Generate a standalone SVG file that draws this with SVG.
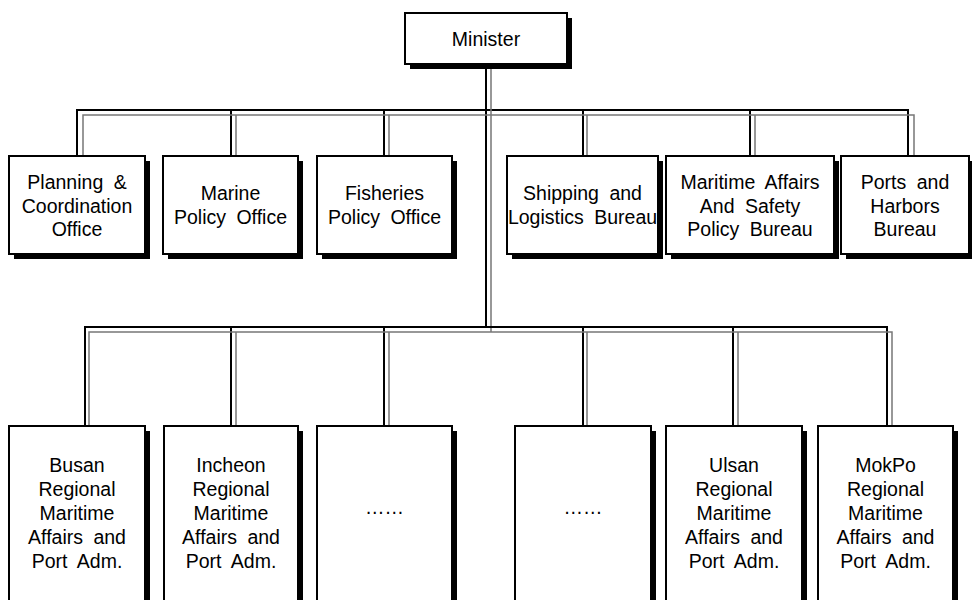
<svg xmlns="http://www.w3.org/2000/svg" width="972" height="600" viewBox="0 0 972 600">
<style>
.sh{fill:#000}
.bx{fill:#fff;stroke:#000;stroke-width:2}
.t{font-family:"Liberation Sans",Arial,sans-serif;font-size:19.5px;fill:#000;text-anchor:middle;word-spacing:5px}
.k{fill:none;stroke:#000;stroke-width:2}
.g{fill:none;stroke:#777;stroke-width:1.5}
</style>
<rect width="972" height="600" fill="#fff"/>
<g id="connectors">
<path class="k" d="M486 64V327M77 156V110H908V156M231 110V156M384 110V156M583 110V156M750 110V156"/>
<path class="g" d="M491 64V332M83 156V115H914V156M236 115V156M389 115V156M587 115V156M755 115V156"/>
<path class="k" d="M85 426V327H887V426M231 327V426M384 327V426M583 327V426M733 327V426"/>
<path class="g" d="M89 426V332H892V426M236 332V426M389 332V426M587 332V426M738 332V426"/>
</g>
<g id="minister">
<rect class="sh" x="410" y="18" width="162" height="51"/>
<rect class="bx" x="405" y="13" width="162" height="51"/>
<text class="t" x="486" y="46">Minister</text>
</g>
<g id="planning">
<rect class="sh" x="14" y="161" width="136" height="98"/>
<rect class="bx" x="9" y="156" width="136" height="98"/>
<text class="t" x="77" y="189">Planning &amp;</text>
<text class="t" x="77" y="212.5">Coordination</text>
<text class="t" x="77" y="236">Office</text>
</g>
<g id="marine">
<rect class="sh" x="168" y="161" width="135" height="98"/>
<rect class="bx" x="163" y="156" width="135" height="98"/>
<text class="t" x="230.5" y="200">Marine</text>
<text class="t" x="230.5" y="224">Policy Office</text>
</g>
<g id="fisheries">
<rect class="sh" x="322" y="161" width="135" height="98"/>
<rect class="bx" x="317" y="156" width="135" height="98"/>
<text class="t" x="384.5" y="200">Fisheries</text>
<text class="t" x="384.5" y="224">Policy Office</text>
</g>
<g id="shipping">
<rect class="sh" x="512" y="161" width="151" height="98"/>
<rect class="bx" x="507" y="156" width="151" height="98"/>
<text class="t" x="582.5" y="200">Shipping and</text>
<text class="t" x="582.5" y="224">Logistics Bureau</text>
</g>
<g id="maritime">
<rect class="sh" x="671" y="161" width="168" height="98"/>
<rect class="bx" x="666" y="156" width="168" height="98"/>
<text class="t" x="750" y="189">Maritime Affairs</text>
<text class="t" x="750" y="212.5">And Safety</text>
<text class="t" x="750" y="236">Policy Bureau</text>
</g>
<g id="ports">
<rect class="sh" x="846" y="161" width="128" height="98"/>
<rect class="bx" x="841" y="156" width="128" height="98"/>
<text class="t" x="905" y="189">Ports and</text>
<text class="t" x="905" y="212.5">Harbors</text>
<text class="t" x="905" y="236">Bureau</text>
</g>
<g id="busan">
<rect class="sh" x="14" y="431" width="136" height="180"/>
<rect class="bx" x="9" y="426" width="136" height="180"/>
<text class="t" x="77" y="472">Busan</text>
<text class="t" x="77" y="496">Regional</text>
<text class="t" x="77" y="520">Maritime</text>
<text class="t" x="77" y="544">Affairs and</text>
<text class="t" x="77" y="568">Port Adm.</text>
</g>
<g id="incheon">
<rect class="sh" x="169" y="431" width="134" height="180"/>
<rect class="bx" x="164" y="426" width="134" height="180"/>
<text class="t" x="231" y="472">Incheon</text>
<text class="t" x="231" y="496">Regional</text>
<text class="t" x="231" y="520">Maritime</text>
<text class="t" x="231" y="544">Affairs and</text>
<text class="t" x="231" y="568">Port Adm.</text>
</g>
<g id="etc1">
<rect class="sh" x="322" y="431" width="135" height="180"/>
<rect class="bx" x="317" y="426" width="135" height="180"/>
<text class="t" x="384.5" y="514">……</text>
</g>
<g id="etc2">
<rect class="sh" x="520" y="431" width="136" height="180"/>
<rect class="bx" x="515" y="426" width="136" height="180"/>
<text class="t" x="583" y="514">……</text>
</g>
<g id="ulsan">
<rect class="sh" x="671" y="431" width="136" height="180"/>
<rect class="bx" x="666" y="426" width="136" height="180"/>
<text class="t" x="734" y="472">Ulsan</text>
<text class="t" x="734" y="496">Regional</text>
<text class="t" x="734" y="520">Maritime</text>
<text class="t" x="734" y="544">Affairs and</text>
<text class="t" x="734" y="568">Port Adm.</text>
</g>
<g id="mokpo">
<rect class="sh" x="823" y="431" width="135" height="180"/>
<rect class="bx" x="818" y="426" width="135" height="180"/>
<text class="t" x="885.5" y="472">MokPo</text>
<text class="t" x="885.5" y="496">Regional</text>
<text class="t" x="885.5" y="520">Maritime</text>
<text class="t" x="885.5" y="544">Affairs and</text>
<text class="t" x="885.5" y="568">Port Adm.</text>
</g>
</svg>
